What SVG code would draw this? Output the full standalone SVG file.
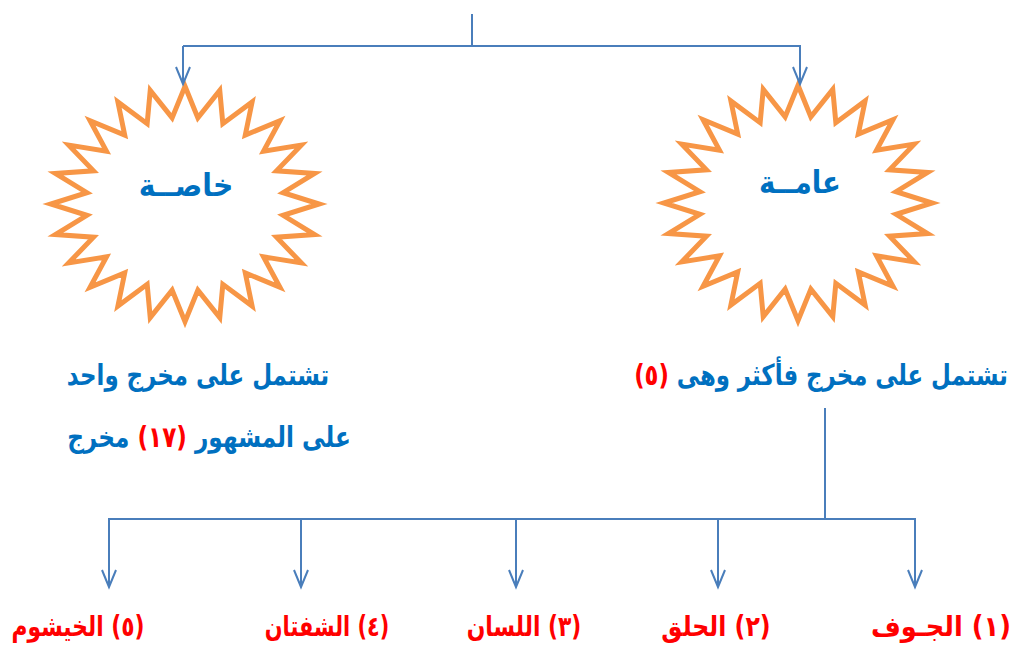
<svg xmlns="http://www.w3.org/2000/svg" xmlns:xlink="http://www.w3.org/1999/xlink" width="1024" height="650" viewBox="0 0 1024 650">
<style>
.conn{fill:none;stroke:#4A7EBB;stroke-width:2}
.star{fill:#FFFFFF;stroke:#F79646;stroke-width:5;stroke-linejoin:miter}
.t{font-family:"DejaVu Sans","Noto Sans",sans-serif;font-weight:bold;direction:rtl;text-anchor:middle}
.blue{fill:#0070C0}
.red{fill:#FF0000}
</style>
<defs>
<marker id="arr" markerUnits="userSpaceOnUse" markerWidth="30" markerHeight="30" refX="0" refY="0" orient="auto" overflow="visible">
<path d="M-17,-7 L0,0 L-17,7" fill="none" stroke="#4A7EBB" stroke-width="2"/>
</marker>
<path id="starShape" vector-effect="non-scaling-stroke" d="M0,-122 L11.7,-89.2 L31.6,-117.8 L34.4,-83.2 L61,-105.7 L54.8,-71.4 L86.3,-86.3 L71.4,-54.8 L105.7,-61 L83.2,-34.4 L117.8,-31.6 L89.2,-11.7 L122,0 L89.2,11.7 L117.8,31.6 L83.2,34.4 L105.7,61 L71.4,54.8 L86.3,86.3 L54.8,71.4 L61,105.7 L34.4,83.2 L31.6,117.8 L11.7,89.2 L0,122 L-11.7,89.2 L-31.6,117.8 L-34.4,83.2 L-61,105.7 L-54.8,71.4 L-86.3,86.3 L-71.4,54.8 L-105.7,61 L-83.2,34.4 L-117.8,31.6 L-89.2,11.7 L-122,0 L-89.2,-11.7 L-117.8,-31.6 L-83.2,-34.4 L-105.7,-61 L-71.4,-54.8 L-86.3,-86.3 L-54.8,-71.4 L-61,-105.7 L-34.4,-83.2 L-31.6,-117.8 L-11.7,-89.2 Z"/>
</defs>
<rect width="1024" height="650" fill="#FFFFFF"/>

<g id="node-khassa">
<use xlink:href="#starShape" class="star" transform="translate(185,204) scale(1.1,0.965)"/>
<text class="t blue" x="0" y="0" font-size="31" transform="translate(186,196) scale(0.91,1)">خاصــة</text>
</g>

<g id="node-amma">
<use xlink:href="#starShape" class="star" transform="translate(798,203) scale(1.1,0.965)"/>
<text class="t blue" x="0" y="0" font-size="31" transform="translate(800,193) scale(0.89,1)">عامــة</text>
</g>

<g id="text-left">
<text class="t blue" x="0" y="0" font-size="29" transform="translate(198,385) scale(0.79,1)">تشتمل على مخرج واحد</text>
<text class="t blue" x="0" y="0" font-size="29" transform="translate(209,447) scale(0.8,1)">على المشهور <tspan class="red">(١٧)</tspan> مخرج</text>
</g>

<g id="text-right">
<text class="t blue" x="0" y="0" font-size="29" transform="translate(821,385) scale(0.787,1)">تشتمل على مخرج فأكثر وهى <tspan class="red">(٥)</tspan></text>
</g>

<g id="node-1"><text class="t red" x="0" y="0" font-size="28" transform="translate(941,636) scale(0.92,1)">(١) الجـوف</text></g>
<g id="node-2"><text class="t red" x="0" y="0" font-size="28" transform="translate(716,636) scale(0.845,1)">(٢) الحلق</text></g>
<g id="node-3"><text class="t red" x="0" y="0" font-size="28" transform="translate(524,636) scale(0.78,1)">(٣) اللسان</text></g>
<g id="node-4"><text class="t red" x="0" y="0" font-size="28" transform="translate(327,636) scale(0.745,1)">(٤) الشفتان</text></g>
<g id="node-5"><text class="t red" x="0" y="0" font-size="28" transform="translate(78,636) scale(0.78,1)">(٥) الخيشوم</text></g>

<g id="connectors">
<path class="conn" d="M472,14 V46 M183,46 H801"/>
<path class="conn" d="M183,46 V84" marker-end="url(#arr)"/>
<path class="conn" d="M800,46 V84" marker-end="url(#arr)"/>
<path class="conn" d="M825,408 V519 M108,519 H916"/>
<path class="conn" d="M109,519 V587" marker-end="url(#arr)"/>
<path class="conn" d="M301,519 V587" marker-end="url(#arr)"/>
<path class="conn" d="M516,519 V587" marker-end="url(#arr)"/>
<path class="conn" d="M718,519 V587" marker-end="url(#arr)"/>
<path class="conn" d="M915,519 V587" marker-end="url(#arr)"/>
</g>
</svg>
